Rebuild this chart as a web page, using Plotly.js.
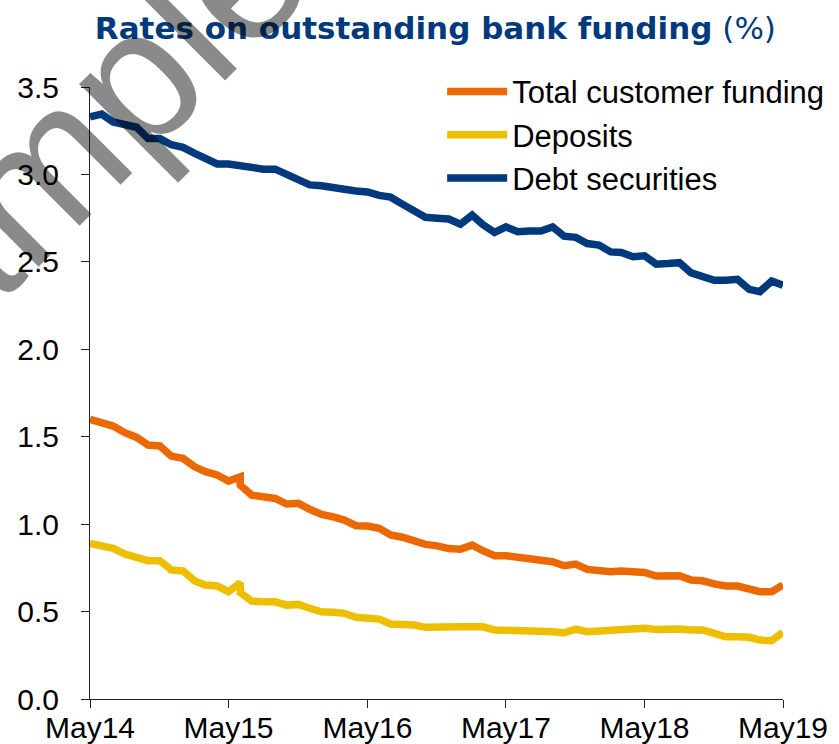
<!DOCTYPE html>
<html>
<head>
<meta charset="utf-8">
<script src="https://cdn.plot.ly/plotly-3.0.1.min.js"></script>
<style>
  html, body { margin: 0; padding: 0; background: #ffffff; }
  #chart { width: 839px; height: 744px; }
</style>
</head>
<body>
<div id="chart"></div>
<script>
// Monthly observations, May 2014 to May 2019
const months = [
  '2014-05','2014-06','2014-07','2014-08','2014-09','2014-10','2014-11','2014-12',
  '2015-01','2015-02','2015-03','2015-04','2015-05','2015-06','2015-07','2015-08',
  '2015-09','2015-10','2015-11','2015-12','2016-01','2016-02','2016-03','2016-04',
  '2016-05','2016-06','2016-07','2016-08','2016-09','2016-10','2016-11','2016-12',
  '2017-01','2017-02','2017-03','2017-04','2017-05','2017-06','2017-07','2017-08',
  '2017-09','2017-10','2017-11','2017-12','2018-01','2018-02','2018-03','2018-04',
  '2018-05','2018-06','2018-07','2018-08','2018-09','2018-10','2018-11','2018-12',
  '2019-01','2019-02','2019-03','2019-04','2019-05'
];

const seriesNames = ['Total customer funding', 'Deposits', 'Debt securities'];

const totalCustomerFunding = [
  1.600,1.582,1.561,1.523,1.496,1.452,1.447,1.389,1.376,1.328,1.300,1.281,1.246,1.224,1.166,1.161,
  1.147,1.115,1.119,1.085,1.056,1.042,1.023,0.991,0.989,0.976,0.938,0.925,0.903,0.884,0.876,0.860,
  0.857,0.880,0.848,0.819,0.819,0.810,0.804,0.795,0.785,0.762,0.772,0.741,0.734,0.728,0.732,0.724,
  0.724,0.703,0.709,0.705,0.680,0.676,0.658,0.646,0.646,0.633,0.614,0.614,0.652
];

const deposits = [
  0.890,0.871,0.862,0.829,0.814,0.791,0.791,0.738,0.732,0.675,0.652,0.646,0.614,0.608,0.560,0.556,
  0.556,0.537,0.541,0.519,0.499,0.496,0.490,0.467,0.467,0.457,0.429,0.427,0.423,0.410,0.408,0.408,
  0.413,0.413,0.413,0.395,0.395,0.395,0.391,0.389,0.385,0.379,0.400,0.385,0.389,0.395,0.400,0.404,
  0.404,0.398,0.404,0.400,0.395,0.395,0.375,0.356,0.356,0.353,0.337,0.333,0.381
];

const debtSecurities = [
  3.330,3.345,3.300,3.280,3.270,3.205,3.205,3.170,3.155,3.120,3.095,3.060,3.060,3.050,3.035,3.030,
  3.030,3.000,2.970,2.940,2.935,2.930,2.915,2.905,2.900,2.880,2.870,2.830,2.790,2.755,2.750,2.745,
  2.715,2.767,2.713,2.668,2.700,2.672,2.676,2.676,2.700,2.647,2.640,2.605,2.596,2.557,2.554,2.529,
  2.535,2.487,2.490,2.495,2.437,2.420,2.395,2.395,2.400,2.343,2.330,2.390,2.367
];

// Series break: in this month the customer funding and deposit series have an old-basis value too
const breakMonth = '2015-06';
const totalCustomerFundingOldBasis = 1.270;
const depositsOldBasis = 0.665;

const seriesColors = ['#EC6800', '#EEBE00', '#003A7D'];

function withBreak(xs, ys, bx, oldVal) {
  const i = xs.indexOf(bx);
  const nx = xs.slice(0, i).concat([bx]).concat(xs.slice(i));
  const ny = ys.slice(0, i).concat([oldVal]).concat(ys.slice(i));
  return {x: nx, y: ny};
}

const tcf = withBreak(months, totalCustomerFunding, breakMonth, totalCustomerFundingOldBasis);
const dep = withBreak(months, deposits, breakMonth, depositsOldBasis);

const lineW = 7.5;
const traces = [
  {x: tcf.x, y: tcf.y, name: seriesNames[0], type: 'scatter', mode: 'lines',
   line: {color: seriesColors[0], width: lineW}},
  {x: dep.x, y: dep.y, name: seriesNames[1], type: 'scatter', mode: 'lines',
   line: {color: seriesColors[1], width: lineW}},
  {x: months, y: debtSecurities, name: seriesNames[2], type: 'scatter', mode: 'lines',
   line: {color: seriesColors[2], width: lineW}}
];

const layout = {
  width: 839, height: 744,
  paper_bgcolor: '#ffffff', plot_bgcolor: '#ffffff',
  margin: {l: 90, r: 56, t: 87, b: 45, pad: 0, autoexpand: false},
  font: {family: 'Liberation Sans, Arial, sans-serif', color: '#000000', size: 30},
  title: {
    text: '<b>Rates on outstanding bank funding</b> (%)',
    font: {family: 'DejaVu Sans, sans-serif', size: 31, color: '#003A7D'},
    xref: 'container', yref: 'container',
    x: 0.113, xanchor: 'left', y: 0.962, yanchor: 'middle'
  },
  showlegend: true,
  legend: {
    xref: 'container', yref: 'container',
    x: 0.527, y: 0.913, xanchor: 'left', yanchor: 'top',
    bgcolor: 'rgba(0,0,0,0)', borderwidth: 0,
    font: {family: 'Liberation Sans, Arial, sans-serif', size: 31, color: '#000000'},
    itemwidth: 60, tracegroupgap: 0, traceorder: 'normal'
  },
  xaxis: {
    type: 'date',
    range: ['2014-05-01', '2019-05-01'],
    tick0: '2014-05-01', dtick: 'M12', tickformat: '%b%y',
    ticks: 'outside', ticklen: 8, tickwidth: 1, tickcolor: '#222',
    showline: true, linecolor: '#222', linewidth: 1,
    showgrid: false, zeroline: false, automargin: false,
    tickfont: {size: 30, color: '#000'},
    ticklabelstandoff: -6
  },
  yaxis: {
    range: [0, 3.5], dtick: 0.5, tick0: 0, tickformat: '.1f',
    ticks: 'outside', ticklen: 8, tickwidth: 1, tickcolor: '#222',
    showline: true, linecolor: '#222', linewidth: 1,
    showgrid: false, zeroline: false, automargin: false,
    tickfont: {size: 30, color: '#000'},
    ticklabelstandoff: 16
  },
  annotations: [{
    text: 'Sample', xref: 'paper', yref: 'paper',
    x: (46 - 90) / 693, y: (699 - 166) / 612, xanchor: 'center', yanchor: 'middle',
    showarrow: false, textangle: -45,
    font: {family: 'Liberation Sans, Arial, sans-serif', size: 190, color: 'rgba(0,0,0,0.46)'}
  }]
};

Plotly.newPlot('chart', traces, layout, {displayModeBar: false, staticPlot: true});
</script>
</body>
</html>
